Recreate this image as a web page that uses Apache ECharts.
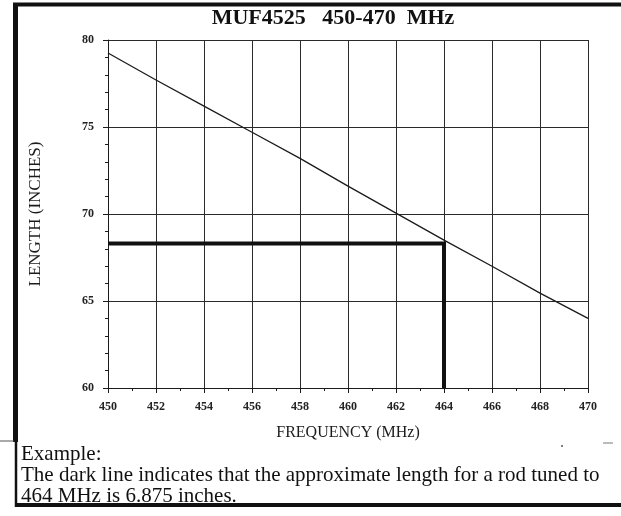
<!DOCTYPE html>
<html>
<head>
<meta charset="utf-8">
<script src="https://cdn.jsdelivr.net/npm/echarts@6/dist/echarts.min.js"></script>
<style>
  html, body { margin: 0; padding: 0; background: #fff; }
  #chart { width: 621px; height: 516px; }
</style>
</head>
<body>
<div id="chart"></div>
<script>
  // rod length vs frequency
  const freqs = [450, 452, 454, 456, 458, 460, 462, 464, 466, 468, 470]
  const lengths = [79.25, 77.7, 76.2, 74.7, 73.2, 71.6, 70.05, 68.5, 67.0, 65.45, 64.0]
  // the dark "example" line at 464 MHz
  const exampleFreq = [450, 464, 464]
  const exampleLen = [68.3, 68.3, 60]
  const xTicks = { min: 450, max: 470, step: 2 }
  const yTicks = { min: 60, max: 80, step: 5 }

  const ink = '#1b1b1b'
  const chart = echarts.init(document.getElementById('chart'))

  chart.setOption({
    backgroundColor: '#fff',
    animation: false,
    grid: { left: 108, right: 33, top: 40, bottom: 128 },
    xAxis: {
      type: 'value',
      min: xTicks.min,
      max: xTicks.max,
      interval: xTicks.step,
      name: 'FREQUENCY (MHz)',
      nameLocation: 'middle',
      nameGap: 37,
      nameTextStyle: { fontFamily: 'Liberation Serif', fontSize: 16, color: ink },
      axisLine: { lineStyle: { color: ink, width: 1 } },
      axisTick: { length: 5, lineStyle: { color: ink } },
      minorTick: { show: true, splitNumber: 2, length: 3, lineStyle: { color: ink } },
      axisLabel: { margin: 13, fontFamily: 'Liberation Sans Narrow', fontSize: 12, fontWeight: 'bold', color: '#222' },
      splitLine: { show: true, lineStyle: { color: '#2a2a2a', width: 1 } }
    },
    yAxis: {
      type: 'value',
      min: yTicks.min,
      max: yTicks.max,
      interval: yTicks.step,
      name: 'LENGTH (INCHES)',
      nameLocation: 'middle',
      nameGap: 64,
      nameTextStyle: { fontFamily: 'Liberation Serif', fontSize: 17, color: ink },
      axisLine: { show: true, lineStyle: { color: ink, width: 1 } },
      axisTick: { show: true, length: 5, lineStyle: { color: ink } },
      minorTick: { show: true, splitNumber: 5, length: 3, lineStyle: { color: ink } },
      axisLabel: { margin: 14, fontFamily: 'Liberation Sans Narrow', fontSize: 12, fontWeight: 'bold', color: '#222' },
      splitLine: { show: true, lineStyle: { color: '#2a2a2a', width: 1 } }
    },
    series: [
      {
        type: 'line',
        data: freqs.map((f, i) => [f, lengths[i]]),
        symbol: 'none',
        lineStyle: { color: ink, width: 1.3 },
        z: 3
      },
      {
        type: 'line',
        data: exampleFreq.map((f, i) => [f, exampleLen[i]]),
        symbol: 'none',
        lineStyle: { color: '#111', width: 4, join: 'miter', cap: 'butt' },
        z: 4
      }
    ],
    graphic: [
      // outer frame of the scanned page
      { type: 'line', shape: { x1: 13, y1: 4.5, x2: 621, y2: 4.5 }, style: { stroke: '#111', lineWidth: 4 } },
      { type: 'line', shape: { x1: 15.5, y1: 3, x2: 15.5, y2: 442 }, style: { stroke: '#111', lineWidth: 5 } },
      { type: 'line', shape: { x1: 16, y1: 442, x2: 16, y2: 507 }, style: { stroke: '#111', lineWidth: 2.5 } },
      { type: 'line', shape: { x1: 0, y1: 441, x2: 14, y2: 441 }, style: { stroke: '#555', lineWidth: 1 } },
      { type: 'line', shape: { x1: 15, y1: 505, x2: 621, y2: 505 }, style: { stroke: '#111', lineWidth: 4 } },
      { type: 'line', shape: { x1: 603, y1: 443, x2: 613, y2: 443 }, style: { stroke: '#777', lineWidth: 1 } },
      { type: 'circle', shape: { cx: 562, cy: 446, r: 1 }, style: { fill: '#555' } },
      {
        type: 'text', x: 333, y: 7,
        style: {
          text: 'MUF4525   450-470  MHz', align: 'center',
          fontFamily: 'Liberation Serif', fontSize: 22, fontWeight: 'bold', fill: '#111'
        }
      },
      {
        type: 'text', x: 21, y: 444,
        style: {
          text: 'Example:\nThe dark line indicates that the approximate length for a rod tuned to\n464 MHz is 6.875 inches.',
          fontFamily: 'Liberation Serif', fontSize: 21, lineHeight: 21, fill: '#111'
        }
      }
    ]
  })
</script>
</body>
</html>
